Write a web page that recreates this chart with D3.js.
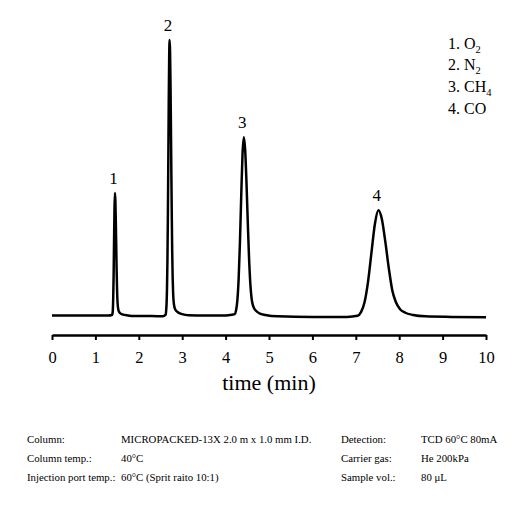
<!DOCTYPE html>
<html>
<head>
<meta charset="utf-8">
<script src="https://cdn.jsdelivr.net/npm/d3@7"></script>
<style>
  body { margin: 0; background: #fff; }
  text { font-family: "Liberation Serif", "Times New Roman", serif; fill: #000; }
</style>
</head>
<body>
<div id="chart-container"></div>
<script>
// Chromatogram trace (time in min, detector signal in arbitrary units)
const timeMin = [
  0.00, 0.50, 1.00, 1.30, 1.38,
  1.39, 1.40, 1.41, 1.42, 1.43, 1.44, 1.45, 1.46, 1.47, 1.48, 1.49, 1.50, 1.51, 1.53, 1.56, 1.62, 1.75,
  1.90, 2.30, 2.55,
  2.62, 2.63, 2.64, 2.65, 2.66, 2.67, 2.68, 2.69, 2.70, 2.71, 2.72, 2.73, 2.74, 2.75, 2.76, 2.77, 2.78, 2.79,
  2.81, 2.84, 2.90, 3.00, 3.15, 3.50, 4.00,
  4.15, 4.21, 4.24, 4.27, 4.30, 4.33, 4.36, 4.39, 4.42, 4.45, 4.48, 4.51, 4.54, 4.57, 4.60, 4.64, 4.70,
  4.78, 4.92, 5.20, 6.00, 6.80,
  7.04, 7.12, 7.20, 7.28, 7.36, 7.44, 7.52, 7.60, 7.68, 7.76, 7.84, 7.92, 8.02, 8.14, 8.32,
  8.60, 9.20, 10.00
];
const signal = [
  0.0, 0.0, 0.0, 0.0, 0.2,
  0.5, 1.5, 6.0, 14.5, 27.0, 39.0, 44.5, 41.7, 34.5, 25.0, 16.0, 9.0, 4.8, 2.0, 1.0, 0.4, 0.0,
  -0.2, -0.2, -0.3,
  0.3, 1.7, 4.4, 10.0, 20.3, 36.0, 56.3, 77.5, 93.8, 100.0, 96.0, 85.0, 69.0, 52.0, 36.0, 23.0, 14.0, 8.5,
  4.0, 2.2, 1.2, 0.5, 0.1, 0.0, 0.0,
  0.3, 0.5, 1.8, 5.3, 13.1, 26.3, 43.4, 58.6, 64.7, 60.3, 48.8, 34.4, 21.0, 11.5, 6.0, 3.2, 1.7,
  0.8, 0.2, -0.3, -0.5, -0.5,
  -0.1, 1.2, 4.7, 12.0, 22.7, 33.2, 38.2, 35.0, 26.8, 17.2, 9.2, 5.0, 2.3, 1.0, 0.2,
  -0.3, -0.5, -0.6
];

// Peak labels
const peakNumbers = ["1", "2", "3", "4"];
const peakTimes = [1.45, 2.71, 4.42, 7.52];
const peakHeights = [44.5, 100.0, 64.7, 38.2];

// Legend (compound names with subscripts)
const compoundBase = ["O", "N", "CH", "CO"];
const compoundSub = ["2", "2", "4", ""];

// Axis ticks
const xTicks = [0, 1, 2, 3, 4, 5, 6, 7, 8, 9, 10];

// Analysis conditions
const condLabelsLeft = ["Column:", "Column temp.:", "Injection port temp.:"];
const condValuesLeft = ["MICROPACKED-13X 2.0 m x 1.0 mm I.D.", "40°C", "60°C (Sprit raito 10:1)"];
const condLabelsRight = ["Detection:", "Carrier gas:", "Sample vol.:"];
const condValuesRight = ["TCD 60°C 80mA", "He 200kPa", "80 μL"];

const width = 531;
const height = 509;

const svg = d3.select("#chart-container")
  .append("svg")
  .attr("width", width)
  .attr("height", height);

// Scales
const xScale = d3.scaleLinear().domain([0, 10]).range([52, 486]);
const yScale = d3.scaleLinear().domain([0, 100]).range([315.5, 40]);

const trace = timeMin.map((t, i) => ({ t: t, v: signal[i] }));

// Trace
const line = d3.line()
  .x(d => xScale(d.t))
  .y(d => yScale(d.v))
  .curve(d3.curveMonotoneX);

svg.append("path")
  .datum(trace)
  .attr("fill", "none")
  .attr("stroke", "#000")
  .attr("stroke-width", 2.5)
  .attr("stroke-linejoin", "round")
  .attr("d", line);

// Peak numbers
svg.selectAll(".peak-label")
  .data(peakNumbers)
  .enter().append("text")
  .attr("class", "peak-label")
  .attr("x", (d, i) => xScale(peakTimes[i]) - 1.5)
  .attr("y", (d, i) => yScale(peakHeights[i]) - 9)
  .attr("text-anchor", "middle")
  .style("font-size", "17px")
  .text(d => d);

// X axis
const xAxis = d3.axisBottom(xScale)
  .tickValues(xTicks)
  .tickFormat(d3.format("d"))
  .tickSize(5)
  .tickSizeOuter(0)
  .tickPadding(11);

const axisG = svg.append("g")
  .attr("class", "x axis")
  .attr("transform", "translate(0,335)")
  .call(xAxis);

axisG.select(".domain").attr("stroke", "#000").attr("stroke-width", 2.5);
axisG.selectAll(".tick line").attr("stroke", "#000").attr("stroke-width", 2);
axisG.selectAll(".tick text")
  .style("font-family", "'Liberation Serif', 'Times New Roman', serif")
  .style("font-size", "16.5px")
  .attr("fill", "#000");

svg.append("text")
  .attr("x", (xScale(0) + xScale(10)) / 2)
  .attr("y", 390)
  .attr("text-anchor", "middle")
  .style("font-size", "22px")
  .text("time (min)");

// Legend
const legend = svg.append("g").attr("class", "legend");
compoundBase.forEach((c, i) => {
  const t = legend.append("text")
    .attr("x", 448)
    .attr("y", 48.5 + i * 21.7)
    .style("font-size", "16px");
  t.append("tspan").text(peakNumbers[i] + ". " + c);
  if (compoundSub[i]) {
    t.append("tspan")
      .attr("dy", 4)
      .style("font-size", "10.5px")
      .text(compoundSub[i]);
  }
});

// Conditions table
const rowY = [442.5, 462, 481];
const colX = [27, 121, 341, 421];
const cols = [condLabelsLeft, condValuesLeft, condLabelsRight, condValuesRight];
cols.forEach((col, ci) => {
  svg.selectAll(".cond" + ci)
    .data(col)
    .enter().append("text")
    .attr("class", "cond" + ci)
    .attr("x", colX[ci])
    .attr("y", (d, i) => rowY[i])
    .style("font-size", "10.8px")
    .text(d => d);
});
</script>
</body>
</html>
